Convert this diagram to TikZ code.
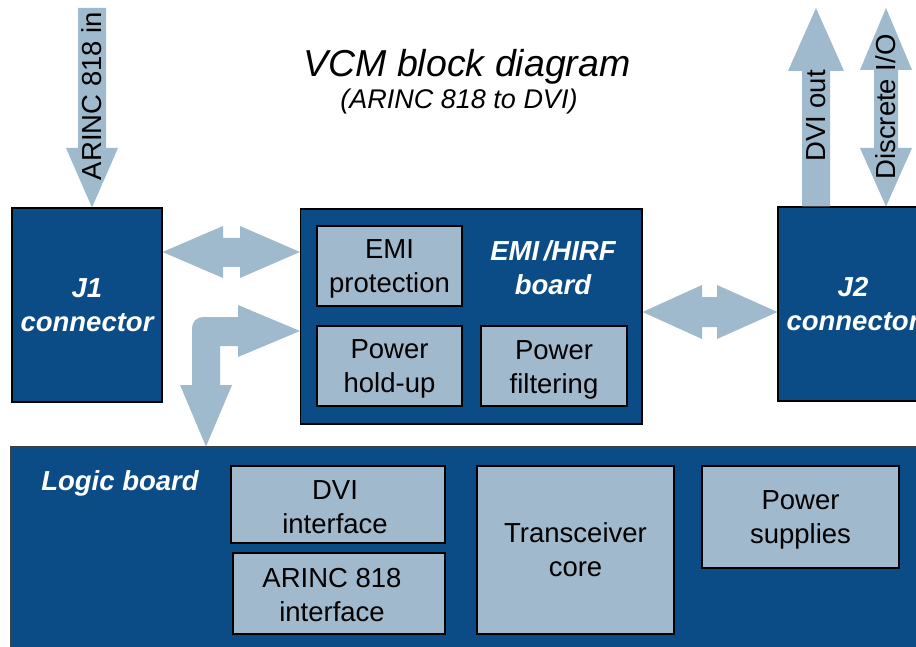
\documentclass[tikz,border=0pt]{standalone}
\usepackage{fontspec}
\setmainfont{Liberation Sans}
\definecolor{darkb}{HTML}{0B4C87}
\definecolor{lightb}{HTML}{A0B9CC}
\definecolor{arrowb}{HTML}{9FB9CD}
\begin{document}
\begin{tikzpicture}[x=1pt,y=-1pt,
  board/.style={draw=black, line width=1.1pt, fill=darkb, inner sep=0pt, text=white,
    font=\fontsize{27.5}{34}\selectfont\bfseries\itshape, align=center},
  blockbox/.style={draw=black, line width=1.1pt, fill=lightb, inner sep=0pt},
  blocktext/.style={text=black, font=\fontsize{27.5}{34}\selectfont, align=center, inner sep=0pt, yshift=-3pt},
  boardlabel/.style={text=white, font=\fontsize{27.5}{34}\selectfont\bfseries\itshape, align=center, inner sep=0pt},
  biglabel/.style={text=black, font=\fontsize{27.5}{34}\selectfont, inner sep=0pt},
  blockarrow/.style={fill=arrowb, draw=none}]
\clip (0,0) rectangle (916,647);
\fill[white] (0,0) rectangle (916,647);

% title
\node[font=\fontsize{37.5}{40}\selectfont\itshape, anchor=base] (title) at (467,77) {VCM block diagram};
\node[font=\fontsize{27}{30}\selectfont\itshape, anchor=base] (subtitle) at (459,109) {(ARINC 818 to DVI)};

% boards
\node[board, minimum width=150, minimum height=194] (j1) at (87,305) {J1\\connector};
\node[board, minimum width=341.5, minimum height=215] (emi) at (471.25,316.5) {};
\node[boardlabel] (emilabel) at (553,268) {EMI\,/HIRF\\board};
\node[board, minimum width=150, minimum height=194] (j2) at (853,304) {J2\\connector};
\node[board, draw=black!75, minimum width=929, minimum height=223] (logic) at (475.5,558.5) {};
\node[boardlabel] (logiclabel) at (120,483) {Logic board};

% inner blocks
\node[blockbox, minimum width=145, minimum height=80, label={[blocktext]center:{EMI\\protection}}] (emiprot) at (389.5,266) {};
\node[blockbox, minimum width=145, minimum height=80, label={[blocktext]center:{Power\\hold-up}}] (hold) at (389.5,366) {};
\node[blockbox, minimum width=146, minimum height=80, label={[blocktext, yshift=-1pt]center:{Power\\filtering}}] (filt) at (554,366) {};
\node[blockbox, minimum width=214, minimum height=77, label={[blocktext, xshift=-3pt]center:{DVI\\interface}}] (dvi) at (338,504.5) {};
\node[blockbox, minimum width=212, minimum height=81, label={[blocktext, xshift=-7pt, yshift=1pt]center:{ARINC 818\\interface}}] (arinc) at (339,593.5) {};
\node[blockbox, minimum width=197, minimum height=168, label={[blocktext, yshift=3pt]center:{Transceiver\\core}}] (trx) at (575.5,550) {};
\node[blockbox, minimum width=197, minimum height=102, label={[blocktext]center:{Power\\supplies}}] (psu) at (800.5,517) {};

% ARINC 818 in arrow
\fill[blockarrow] (78,8) -- (106,8) -- (106,148) -- (118,148) -- (j1.north -| 92,0) -- (66,148) -- (78,148) -- cycle;
\node[biglabel, rotate=90] (arincin) at (92,96) {ARINC 818 in};

% DVI out arrow
\fill[blockarrow] (j2.north -| 802,0) -- (802,71) -- (788,71) -- (816,8) -- (844,71) -- (830,71) -- (j2.north -| 830,0) -- cycle;
\node[biglabel, rotate=90] (dviout) at (816,116) {DVI out};

% Discrete I/O double arrow
\fill[blockarrow] (886,8) -- (912,70) -- (898,70) -- (898,148) -- (912,148) -- (j2.north -| 886,0)
  -- (860,148) -- (874,148) -- (874,70) -- (860,70) -- cycle;
\node[biglabel, rotate=90] (discrete) at (886,107) {Discrete I/O};

% J1 <-> EMI double arrow
\fill[blockarrow] (j1.east |- 0,252) -- (223,226) -- (223,238) -- (240,238) -- (240,226) -- (emi.west |- 0,252)
  -- (240,278) -- (240,267) -- (223,267) -- (223,278) -- cycle;

% EMI <-> J2 double arrow
\fill[blockarrow] (emi.east |- 0,312) -- (702,285) -- (702,297) -- (717,297) -- (717,285) -- (j2.west |- 0,312)
  -- (717,339) -- (717,327) -- (702,327) -- (702,339) -- cycle;

% L-shaped arrow: EMI <- -> logic
\fill[blockarrow] (220,385) -- (232,385) -- (logic.north -| 206,0) -- (180,385) -- (192,385)
  [rounded corners=11pt] -- (192,317) [sharp corners] -- (238,317) -- (238,305) -- (emi.west |- 0,331)
  -- (238,357) -- (238,346) -- (220,346) -- cycle;
\end{tikzpicture}
\end{document}
